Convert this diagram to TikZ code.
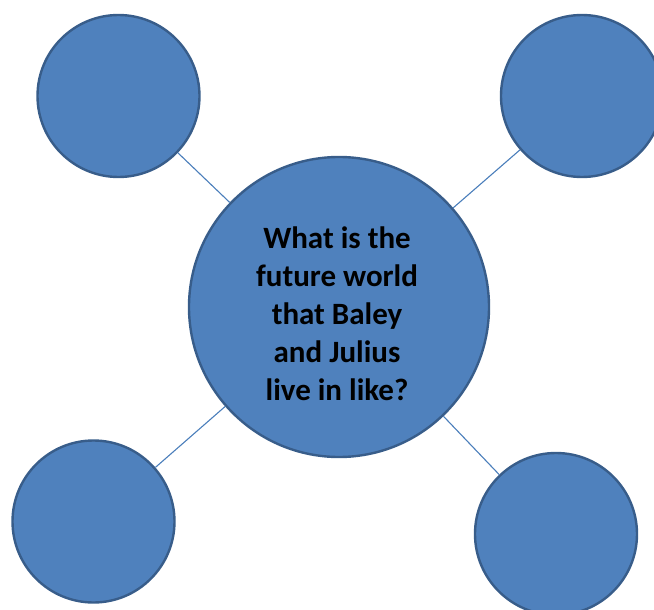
\documentclass[tikz,border=0pt]{standalone}
\usepackage{fontspec}
\setmainfont{Carlito}
\definecolor{bubblefill}{HTML}{4F81BD}
\definecolor{bubbleedge}{HTML}{385D8A}
\definecolor{linkcol}{HTML}{4A7EBB}
\begin{document}
\begin{tikzpicture}[x=1pt,y=-1pt,
  bubble/.style={circle,fill=bubblefill,draw=bubbleedge,line width=2.4pt,inner sep=0pt},
  small/.style={bubble,minimum size=162pt},
  big/.style={bubble,minimum size=300pt},
  link/.style={draw=linkcol,line width=1.1pt},
  qtext/.style={align=center,font=\bfseries\fontsize{31}{38}\selectfont,text=black,inner sep=0pt}]
\useasboundingbox (0,0) rectangle (654,610);
\clip (0,0) rectangle (654,610);
\node[big] (c) at (339,307) {};
\node[small] (tl) at (118.5,96) {};
\node[small] (tr) at (582,96) {};
\node[small] (bl) at (93.5,521.5) {};
\node[small] (br) at (556,534) {};
\draw[link] (tl) -- (c);
\draw[link] (tr) -- (c);
\draw[link] (bl) -- (c);
\draw[link] (br) -- (c);
\node[qtext] (q) at (337,314) {What is the\\future world\\that Baley\\and Julius\\live in like?};
\end{tikzpicture}
\end{document}
